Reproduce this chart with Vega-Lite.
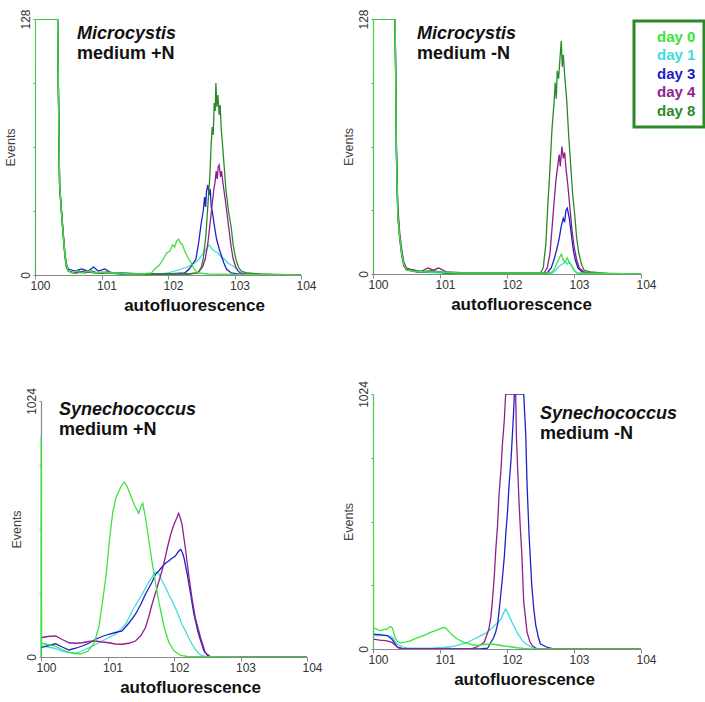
{
  "$schema": "https://vega.github.io/schema/vega-lite/v6.json",
  "background": "white",
  "padding": {"left": 4, "top": 8, "right": 2, "bottom": 5},
  "config": {
    "view": {"stroke": null},
    "font": "Liberation Sans",
    "axis": {"grid": false, "domainColor": "#888888", "domainWidth": 1.2, "tickColor": "#888888", "labelFont": "Liberation Sans", "titleFont": "Liberation Sans"},
    "axisX": {"labelFlush": false, "labelOffset": 5, "labelFontSize": 12, "labelColor": "#333333", "labelPadding": 1, "tickSize": 4, "titleFontSize": 17, "titleFontWeight": "bold", "titleColor": "#111111", "titleY": 22, "titleBaseline": "top"},
    "axisY": {"labelAngle": -90, "labelFontSize": 12, "labelColor": "#333333", "labelPadding": 1, "tickSize": 2, "labelFlush": false, "titleFontSize": 12.5, "titleFontWeight": "normal", "titleColor": "#444444", "titlePadding": 2},
    "title": {"font": "Liberation Sans", "fontSize": 18, "fontWeight": "bold", "fontStyle": "italic", "color": "#111111", "subtitleFont": "Liberation Sans", "subtitleFontSize": 18, "subtitleFontWeight": "bold", "subtitleFontStyle": "normal", "subtitleColor": "#111111", "subtitlePadding": 2, "anchor": "start", "frame": "group", "orient": "top"}
  },
  "datasets": {
    "h": [
{"panel":"A","day":"day 1","logfl":0,"events":0},{"panel":"A","day":"day 1","logfl":0.005,"events":128},{"panel":"A","day":"day 1","logfl":0.34,"events":128},{"panel":"A","day":"day 1","logfl":0.36,"events":70},{"panel":"A","day":"day 1","logfl":0.37,"events":45},{"panel":"A","day":"day 1","logfl":0.39,"events":35},{"panel":"A","day":"day 1","logfl":0.41,"events":26},{"panel":"A","day":"day 1","logfl":0.43,"events":18},{"panel":"A","day":"day 1","logfl":0.45,"events":10},{"panel":"A","day":"day 1","logfl":0.47,"events":5},{"panel":"A","day":"day 1","logfl":0.5,"events":2},{"panel":"A","day":"day 1","logfl":0.6,"events":1},{"panel":"A","day":"day 1","logfl":0.8,"events":1.5},{"panel":"A","day":"day 1","logfl":1.0,"events":1},{"panel":"A","day":"day 1","logfl":1.3,"events":0.5},{"panel":"A","day":"day 1","logfl":1.6,"events":0.5},{"panel":"A","day":"day 1","logfl":1.9,"events":0.5},{"panel":"A","day":"day 1","logfl":2.0,"events":1},{"panel":"A","day":"day 1","logfl":2.1,"events":2},{"panel":"A","day":"day 1","logfl":2.2,"events":3},{"panel":"A","day":"day 1","logfl":2.3,"events":4},{"panel":"A","day":"day 1","logfl":2.4,"events":6},{"panel":"A","day":"day 1","logfl":2.47,"events":8},{"panel":"A","day":"day 1","logfl":2.53,"events":11},{"panel":"A","day":"day 1","logfl":2.58,"events":13},{"panel":"A","day":"day 1","logfl":2.62,"events":15},{"panel":"A","day":"day 1","logfl":2.66,"events":13},{"panel":"A","day":"day 1","logfl":2.7,"events":12},{"panel":"A","day":"day 1","logfl":2.75,"events":11},{"panel":"A","day":"day 1","logfl":2.8,"events":9},{"panel":"A","day":"day 1","logfl":2.85,"events":8},{"panel":"A","day":"day 1","logfl":2.9,"events":6},{"panel":"A","day":"day 1","logfl":2.95,"events":5},{"panel":"A","day":"day 1","logfl":3.0,"events":4},{"panel":"A","day":"day 1","logfl":3.05,"events":2},{"panel":"A","day":"day 1","logfl":3.12,"events":1},{"panel":"A","day":"day 1","logfl":3.2,"events":0.3},{"panel":"A","day":"day 1","logfl":4,"events":0},
{"panel":"A","day":"day 3","logfl":0,"events":0},{"panel":"A","day":"day 3","logfl":0.005,"events":128},{"panel":"A","day":"day 3","logfl":0.34,"events":128},{"panel":"A","day":"day 3","logfl":0.36,"events":72},{"panel":"A","day":"day 3","logfl":0.37,"events":46},{"panel":"A","day":"day 3","logfl":0.39,"events":36},{"panel":"A","day":"day 3","logfl":0.41,"events":27},{"panel":"A","day":"day 3","logfl":0.43,"events":18},{"panel":"A","day":"day 3","logfl":0.45,"events":10},{"panel":"A","day":"day 3","logfl":0.47,"events":5},{"panel":"A","day":"day 3","logfl":0.5,"events":3},{"panel":"A","day":"day 3","logfl":0.6,"events":2},{"panel":"A","day":"day 3","logfl":0.7,"events":3},{"panel":"A","day":"day 3","logfl":0.8,"events":2},{"panel":"A","day":"day 3","logfl":0.88,"events":4},{"panel":"A","day":"day 3","logfl":0.95,"events":2},{"panel":"A","day":"day 3","logfl":1.05,"events":3},{"panel":"A","day":"day 3","logfl":1.15,"events":1},{"panel":"A","day":"day 3","logfl":1.3,"events":1},{"panel":"A","day":"day 3","logfl":1.6,"events":0.5},{"panel":"A","day":"day 3","logfl":2.0,"events":0.5},{"panel":"A","day":"day 3","logfl":2.25,"events":1},{"panel":"A","day":"day 3","logfl":2.32,"events":3},{"panel":"A","day":"day 3","logfl":2.38,"events":6},{"panel":"A","day":"day 3","logfl":2.42,"events":8},{"panel":"A","day":"day 3","logfl":2.46,"events":16},{"panel":"A","day":"day 3","logfl":2.5,"events":26},{"panel":"A","day":"day 3","logfl":2.53,"events":32},{"panel":"A","day":"day 3","logfl":2.55,"events":39},{"panel":"A","day":"day 3","logfl":2.565,"events":34},{"panel":"A","day":"day 3","logfl":2.58,"events":42},{"panel":"A","day":"day 3","logfl":2.6,"events":45},{"panel":"A","day":"day 3","logfl":2.62,"events":40},{"panel":"A","day":"day 3","logfl":2.635,"events":43},{"panel":"A","day":"day 3","logfl":2.65,"events":34},{"panel":"A","day":"day 3","logfl":2.67,"events":31},{"panel":"A","day":"day 3","logfl":2.7,"events":24},{"panel":"A","day":"day 3","logfl":2.73,"events":18},{"panel":"A","day":"day 3","logfl":2.77,"events":13},{"panel":"A","day":"day 3","logfl":2.8,"events":10},{"panel":"A","day":"day 3","logfl":2.84,"events":6},{"panel":"A","day":"day 3","logfl":2.88,"events":3},{"panel":"A","day":"day 3","logfl":2.95,"events":1},{"panel":"A","day":"day 3","logfl":3.1,"events":0.3},{"panel":"A","day":"day 3","logfl":4,"events":0},
{"panel":"A","day":"day 4","logfl":0,"events":0},{"panel":"A","day":"day 4","logfl":0.005,"events":128},{"panel":"A","day":"day 4","logfl":0.34,"events":128},{"panel":"A","day":"day 4","logfl":0.36,"events":70},{"panel":"A","day":"day 4","logfl":0.37,"events":45},{"panel":"A","day":"day 4","logfl":0.39,"events":36},{"panel":"A","day":"day 4","logfl":0.41,"events":27},{"panel":"A","day":"day 4","logfl":0.43,"events":19},{"panel":"A","day":"day 4","logfl":0.45,"events":11},{"panel":"A","day":"day 4","logfl":0.47,"events":6},{"panel":"A","day":"day 4","logfl":0.5,"events":2},{"panel":"A","day":"day 4","logfl":0.6,"events":1},{"panel":"A","day":"day 4","logfl":0.75,"events":2},{"panel":"A","day":"day 4","logfl":0.9,"events":1},{"panel":"A","day":"day 4","logfl":1.1,"events":1},{"panel":"A","day":"day 4","logfl":1.4,"events":0.5},{"panel":"A","day":"day 4","logfl":2.3,"events":0.5},{"panel":"A","day":"day 4","logfl":2.45,"events":1},{"panel":"A","day":"day 4","logfl":2.52,"events":4},{"panel":"A","day":"day 4","logfl":2.56,"events":8},{"panel":"A","day":"day 4","logfl":2.6,"events":16},{"panel":"A","day":"day 4","logfl":2.63,"events":25},{"panel":"A","day":"day 4","logfl":2.66,"events":34},{"panel":"A","day":"day 4","logfl":2.69,"events":43},{"panel":"A","day":"day 4","logfl":2.71,"events":47},{"panel":"A","day":"day 4","logfl":2.725,"events":52},{"panel":"A","day":"day 4","logfl":2.74,"events":48},{"panel":"A","day":"day 4","logfl":2.755,"events":54},{"panel":"A","day":"day 4","logfl":2.77,"events":55},{"panel":"A","day":"day 4","logfl":2.79,"events":49},{"panel":"A","day":"day 4","logfl":2.805,"events":52},{"panel":"A","day":"day 4","logfl":2.83,"events":45},{"panel":"A","day":"day 4","logfl":2.86,"events":38},{"panel":"A","day":"day 4","logfl":2.89,"events":30},{"panel":"A","day":"day 4","logfl":2.92,"events":22},{"panel":"A","day":"day 4","logfl":2.95,"events":14},{"panel":"A","day":"day 4","logfl":2.98,"events":8},{"panel":"A","day":"day 4","logfl":3.02,"events":4},{"panel":"A","day":"day 4","logfl":3.08,"events":1},{"panel":"A","day":"day 4","logfl":3.2,"events":0.3},{"panel":"A","day":"day 4","logfl":4,"events":0},
{"panel":"A","day":"day 8","logfl":0,"events":0},{"panel":"A","day":"day 8","logfl":0.005,"events":128},{"panel":"A","day":"day 8","logfl":0.34,"events":128},{"panel":"A","day":"day 8","logfl":0.36,"events":68},{"panel":"A","day":"day 8","logfl":0.37,"events":44},{"panel":"A","day":"day 8","logfl":0.39,"events":34},{"panel":"A","day":"day 8","logfl":0.41,"events":25},{"panel":"A","day":"day 8","logfl":0.43,"events":17},{"panel":"A","day":"day 8","logfl":0.45,"events":9},{"panel":"A","day":"day 8","logfl":0.47,"events":4},{"panel":"A","day":"day 8","logfl":0.5,"events":2},{"panel":"A","day":"day 8","logfl":0.58,"events":1},{"panel":"A","day":"day 8","logfl":0.66,"events":2},{"panel":"A","day":"day 8","logfl":0.75,"events":1},{"panel":"A","day":"day 8","logfl":0.85,"events":2},{"panel":"A","day":"day 8","logfl":0.95,"events":1},{"panel":"A","day":"day 8","logfl":1.1,"events":1.5},{"panel":"A","day":"day 8","logfl":1.3,"events":0.5},{"panel":"A","day":"day 8","logfl":1.6,"events":0.5},{"panel":"A","day":"day 8","logfl":2.3,"events":0.5},{"panel":"A","day":"day 8","logfl":2.45,"events":1},{"panel":"A","day":"day 8","logfl":2.5,"events":4},{"panel":"A","day":"day 8","logfl":2.53,"events":8},{"panel":"A","day":"day 8","logfl":2.57,"events":20},{"panel":"A","day":"day 8","logfl":2.6,"events":35},{"panel":"A","day":"day 8","logfl":2.63,"events":50},{"panel":"A","day":"day 8","logfl":2.65,"events":66},{"panel":"A","day":"day 8","logfl":2.665,"events":74},{"panel":"A","day":"day 8","logfl":2.68,"events":70},{"panel":"A","day":"day 8","logfl":2.695,"events":86},{"panel":"A","day":"day 8","logfl":2.71,"events":82},{"panel":"A","day":"day 8","logfl":2.72,"events":96},{"panel":"A","day":"day 8","logfl":2.735,"events":84},{"panel":"A","day":"day 8","logfl":2.75,"events":90},{"panel":"A","day":"day 8","logfl":2.77,"events":80},{"panel":"A","day":"day 8","logfl":2.785,"events":85},{"panel":"A","day":"day 8","logfl":2.8,"events":73},{"panel":"A","day":"day 8","logfl":2.82,"events":65},{"panel":"A","day":"day 8","logfl":2.85,"events":52},{"panel":"A","day":"day 8","logfl":2.87,"events":43},{"panel":"A","day":"day 8","logfl":2.91,"events":32},{"panel":"A","day":"day 8","logfl":2.95,"events":24},{"panel":"A","day":"day 8","logfl":2.98,"events":15},{"panel":"A","day":"day 8","logfl":3.02,"events":8},{"panel":"A","day":"day 8","logfl":3.06,"events":4},{"panel":"A","day":"day 8","logfl":3.1,"events":2},{"panel":"A","day":"day 8","logfl":3.2,"events":1},{"panel":"A","day":"day 8","logfl":3.4,"events":0.5},{"panel":"A","day":"day 8","logfl":3.6,"events":0.3},{"panel":"A","day":"day 8","logfl":4,"events":0},
{"panel":"A","day":"day 0","logfl":0,"events":0},{"panel":"A","day":"day 0","logfl":0.005,"events":128},{"panel":"A","day":"day 0","logfl":0.34,"events":128},{"panel":"A","day":"day 0","logfl":0.36,"events":70},{"panel":"A","day":"day 0","logfl":0.37,"events":45},{"panel":"A","day":"day 0","logfl":0.39,"events":35},{"panel":"A","day":"day 0","logfl":0.41,"events":26},{"panel":"A","day":"day 0","logfl":0.43,"events":18},{"panel":"A","day":"day 0","logfl":0.45,"events":10},{"panel":"A","day":"day 0","logfl":0.47,"events":5},{"panel":"A","day":"day 0","logfl":0.5,"events":2},{"panel":"A","day":"day 0","logfl":0.55,"events":1},{"panel":"A","day":"day 0","logfl":0.62,"events":2},{"panel":"A","day":"day 0","logfl":0.7,"events":1},{"panel":"A","day":"day 0","logfl":0.8,"events":2},{"panel":"A","day":"day 0","logfl":0.9,"events":1},{"panel":"A","day":"day 0","logfl":1.0,"events":1.5},{"panel":"A","day":"day 0","logfl":1.1,"events":1},{"panel":"A","day":"day 0","logfl":1.25,"events":1},{"panel":"A","day":"day 0","logfl":1.4,"events":0.5},{"panel":"A","day":"day 0","logfl":1.6,"events":0.5},{"panel":"A","day":"day 0","logfl":1.75,"events":1},{"panel":"A","day":"day 0","logfl":1.8,"events":3},{"panel":"A","day":"day 0","logfl":1.87,"events":5},{"panel":"A","day":"day 0","logfl":1.93,"events":8},{"panel":"A","day":"day 0","logfl":1.98,"events":11},{"panel":"A","day":"day 0","logfl":2.03,"events":12},{"panel":"A","day":"day 0","logfl":2.07,"events":15},{"panel":"A","day":"day 0","logfl":2.1,"events":14},{"panel":"A","day":"day 0","logfl":2.13,"events":17},{"panel":"A","day":"day 0","logfl":2.16,"events":18},{"panel":"A","day":"day 0","logfl":2.19,"events":16},{"panel":"A","day":"day 0","logfl":2.22,"events":15},{"panel":"A","day":"day 0","logfl":2.25,"events":12},{"panel":"A","day":"day 0","logfl":2.28,"events":10},{"panel":"A","day":"day 0","logfl":2.31,"events":8},{"panel":"A","day":"day 0","logfl":2.35,"events":6},{"panel":"A","day":"day 0","logfl":2.39,"events":3},{"panel":"A","day":"day 0","logfl":2.45,"events":1},{"panel":"A","day":"day 0","logfl":2.6,"events":0.5},{"panel":"A","day":"day 0","logfl":3.0,"events":0.3},{"panel":"A","day":"day 0","logfl":4,"events":0},

{"panel":"B","day":"day 1","logfl":0,"events":0},{"panel":"B","day":"day 1","logfl":0.005,"events":128},{"panel":"B","day":"day 1","logfl":0.33,"events":128},{"panel":"B","day":"day 1","logfl":0.35,"events":60},{"panel":"B","day":"day 1","logfl":0.37,"events":30},{"panel":"B","day":"day 1","logfl":0.4,"events":18},{"panel":"B","day":"day 1","logfl":0.43,"events":10},{"panel":"B","day":"day 1","logfl":0.46,"events":5},{"panel":"B","day":"day 1","logfl":0.5,"events":2},{"panel":"B","day":"day 1","logfl":0.7,"events":1},{"panel":"B","day":"day 1","logfl":1.0,"events":0.5},{"panel":"B","day":"day 1","logfl":2.68,"events":0.5},{"panel":"B","day":"day 1","logfl":2.73,"events":2},{"panel":"B","day":"day 1","logfl":2.78,"events":4},{"panel":"B","day":"day 1","logfl":2.83,"events":5},{"panel":"B","day":"day 1","logfl":2.87,"events":6},{"panel":"B","day":"day 1","logfl":2.9,"events":5},{"panel":"B","day":"day 1","logfl":2.93,"events":6},{"panel":"B","day":"day 1","logfl":2.96,"events":4},{"panel":"B","day":"day 1","logfl":3.0,"events":2},{"panel":"B","day":"day 1","logfl":3.04,"events":0.5},{"panel":"B","day":"day 1","logfl":4,"events":0},
{"panel":"B","day":"day 3","logfl":0,"events":0},{"panel":"B","day":"day 3","logfl":0.005,"events":128},{"panel":"B","day":"day 3","logfl":0.33,"events":128},{"panel":"B","day":"day 3","logfl":0.35,"events":62},{"panel":"B","day":"day 3","logfl":0.37,"events":31},{"panel":"B","day":"day 3","logfl":0.4,"events":18},{"panel":"B","day":"day 3","logfl":0.43,"events":10},{"panel":"B","day":"day 3","logfl":0.46,"events":5},{"panel":"B","day":"day 3","logfl":0.5,"events":2},{"panel":"B","day":"day 3","logfl":0.6,"events":2},{"panel":"B","day":"day 3","logfl":0.75,"events":1},{"panel":"B","day":"day 3","logfl":0.9,"events":1.5},{"panel":"B","day":"day 3","logfl":1.1,"events":0.5},{"panel":"B","day":"day 3","logfl":2.6,"events":0.5},{"panel":"B","day":"day 3","logfl":2.66,"events":3},{"panel":"B","day":"day 3","logfl":2.7,"events":7},{"panel":"B","day":"day 3","logfl":2.74,"events":12},{"panel":"B","day":"day 3","logfl":2.78,"events":18},{"panel":"B","day":"day 3","logfl":2.81,"events":24},{"panel":"B","day":"day 3","logfl":2.84,"events":28},{"panel":"B","day":"day 3","logfl":2.86,"events":26},{"panel":"B","day":"day 3","logfl":2.88,"events":32},{"panel":"B","day":"day 3","logfl":2.9,"events":33},{"panel":"B","day":"day 3","logfl":2.93,"events":28},{"panel":"B","day":"day 3","logfl":2.96,"events":20},{"panel":"B","day":"day 3","logfl":2.99,"events":12},{"panel":"B","day":"day 3","logfl":3.02,"events":7},{"panel":"B","day":"day 3","logfl":3.06,"events":3},{"panel":"B","day":"day 3","logfl":3.12,"events":1},{"panel":"B","day":"day 3","logfl":3.25,"events":0.3},{"panel":"B","day":"day 3","logfl":4,"events":0},
{"panel":"B","day":"day 4","logfl":0,"events":0},{"panel":"B","day":"day 4","logfl":0.005,"events":128},{"panel":"B","day":"day 4","logfl":0.33,"events":128},{"panel":"B","day":"day 4","logfl":0.35,"events":64},{"panel":"B","day":"day 4","logfl":0.37,"events":34},{"panel":"B","day":"day 4","logfl":0.4,"events":20},{"panel":"B","day":"day 4","logfl":0.43,"events":12},{"panel":"B","day":"day 4","logfl":0.46,"events":6},{"panel":"B","day":"day 4","logfl":0.5,"events":3},{"panel":"B","day":"day 4","logfl":0.6,"events":2},{"panel":"B","day":"day 4","logfl":0.7,"events":1},{"panel":"B","day":"day 4","logfl":0.82,"events":3},{"panel":"B","day":"day 4","logfl":0.9,"events":2},{"panel":"B","day":"day 4","logfl":0.98,"events":3},{"panel":"B","day":"day 4","logfl":1.1,"events":1},{"panel":"B","day":"day 4","logfl":1.4,"events":0.5},{"panel":"B","day":"day 4","logfl":2.55,"events":0.5},{"panel":"B","day":"day 4","logfl":2.6,"events":3},{"panel":"B","day":"day 4","logfl":2.64,"events":10},{"panel":"B","day":"day 4","logfl":2.67,"events":22},{"panel":"B","day":"day 4","logfl":2.7,"events":35},{"panel":"B","day":"day 4","logfl":2.73,"events":47},{"panel":"B","day":"day 4","logfl":2.76,"events":55},{"panel":"B","day":"day 4","logfl":2.78,"events":60},{"panel":"B","day":"day 4","logfl":2.795,"events":54},{"panel":"B","day":"day 4","logfl":2.82,"events":64},{"panel":"B","day":"day 4","logfl":2.84,"events":58},{"panel":"B","day":"day 4","logfl":2.86,"events":61},{"panel":"B","day":"day 4","logfl":2.88,"events":53},{"panel":"B","day":"day 4","logfl":2.91,"events":44},{"panel":"B","day":"day 4","logfl":2.94,"events":33},{"panel":"B","day":"day 4","logfl":2.97,"events":22},{"panel":"B","day":"day 4","logfl":3.0,"events":14},{"panel":"B","day":"day 4","logfl":3.04,"events":7},{"panel":"B","day":"day 4","logfl":3.08,"events":3},{"panel":"B","day":"day 4","logfl":3.15,"events":1},{"panel":"B","day":"day 4","logfl":3.3,"events":0.3},{"panel":"B","day":"day 4","logfl":4,"events":0},
{"panel":"B","day":"day 8","logfl":0,"events":0},{"panel":"B","day":"day 8","logfl":0.005,"events":128},{"panel":"B","day":"day 8","logfl":0.33,"events":128},{"panel":"B","day":"day 8","logfl":0.35,"events":58},{"panel":"B","day":"day 8","logfl":0.37,"events":29},{"panel":"B","day":"day 8","logfl":0.4,"events":17},{"panel":"B","day":"day 8","logfl":0.43,"events":9},{"panel":"B","day":"day 8","logfl":0.46,"events":4},{"panel":"B","day":"day 8","logfl":0.5,"events":2},{"panel":"B","day":"day 8","logfl":0.65,"events":1},{"panel":"B","day":"day 8","logfl":0.85,"events":1.5},{"panel":"B","day":"day 8","logfl":1.1,"events":0.5},{"panel":"B","day":"day 8","logfl":2.5,"events":0.5},{"panel":"B","day":"day 8","logfl":2.54,"events":3},{"panel":"B","day":"day 8","logfl":2.58,"events":15},{"panel":"B","day":"day 8","logfl":2.61,"events":35},{"panel":"B","day":"day 8","logfl":2.64,"events":52},{"panel":"B","day":"day 8","logfl":2.67,"events":72},{"panel":"B","day":"day 8","logfl":2.7,"events":85},{"panel":"B","day":"day 8","logfl":2.72,"events":96},{"panel":"B","day":"day 8","logfl":2.735,"events":88},{"panel":"B","day":"day 8","logfl":2.75,"events":102},{"panel":"B","day":"day 8","logfl":2.77,"events":98},{"panel":"B","day":"day 8","logfl":2.79,"events":108},{"panel":"B","day":"day 8","logfl":2.81,"events":117},{"panel":"B","day":"day 8","logfl":2.825,"events":104},{"panel":"B","day":"day 8","logfl":2.84,"events":110},{"panel":"B","day":"day 8","logfl":2.86,"events":100},{"panel":"B","day":"day 8","logfl":2.89,"events":88},{"panel":"B","day":"day 8","logfl":2.92,"events":70},{"panel":"B","day":"day 8","logfl":2.95,"events":55},{"panel":"B","day":"day 8","logfl":2.98,"events":40},{"panel":"B","day":"day 8","logfl":3.01,"events":30},{"panel":"B","day":"day 8","logfl":3.04,"events":18},{"panel":"B","day":"day 8","logfl":3.07,"events":11},{"panel":"B","day":"day 8","logfl":3.11,"events":5},{"panel":"B","day":"day 8","logfl":3.15,"events":2},{"panel":"B","day":"day 8","logfl":3.25,"events":1},{"panel":"B","day":"day 8","logfl":3.5,"events":0.3},{"panel":"B","day":"day 8","logfl":4,"events":0},
{"panel":"B","day":"day 0","logfl":0,"events":0},{"panel":"B","day":"day 0","logfl":0.005,"events":128},{"panel":"B","day":"day 0","logfl":0.33,"events":128},{"panel":"B","day":"day 0","logfl":0.35,"events":60},{"panel":"B","day":"day 0","logfl":0.37,"events":30},{"panel":"B","day":"day 0","logfl":0.4,"events":18},{"panel":"B","day":"day 0","logfl":0.43,"events":10},{"panel":"B","day":"day 0","logfl":0.46,"events":5},{"panel":"B","day":"day 0","logfl":0.5,"events":2},{"panel":"B","day":"day 0","logfl":0.6,"events":1.5},{"panel":"B","day":"day 0","logfl":0.8,"events":1},{"panel":"B","day":"day 0","logfl":1.0,"events":1},{"panel":"B","day":"day 0","logfl":1.3,"events":0.5},{"panel":"B","day":"day 0","logfl":2.65,"events":0.5},{"panel":"B","day":"day 0","logfl":2.7,"events":2},{"panel":"B","day":"day 0","logfl":2.74,"events":5},{"panel":"B","day":"day 0","logfl":2.78,"events":8},{"panel":"B","day":"day 0","logfl":2.81,"events":10},{"panel":"B","day":"day 0","logfl":2.84,"events":7},{"panel":"B","day":"day 0","logfl":2.87,"events":6},{"panel":"B","day":"day 0","logfl":2.9,"events":8},{"panel":"B","day":"day 0","logfl":2.93,"events":6},{"panel":"B","day":"day 0","logfl":2.97,"events":4},{"panel":"B","day":"day 0","logfl":3.0,"events":2},{"panel":"B","day":"day 0","logfl":3.05,"events":0.5},{"panel":"B","day":"day 0","logfl":4,"events":0},

{"panel":"C","day":"day 1","logfl":0,"events":45},{"panel":"C","day":"day 1","logfl":0.1,"events":40},{"panel":"C","day":"day 1","logfl":0.2,"events":35},{"panel":"C","day":"day 1","logfl":0.32,"events":24},{"panel":"C","day":"day 1","logfl":0.42,"events":18},{"panel":"C","day":"day 1","logfl":0.52,"events":16},{"panel":"C","day":"day 1","logfl":0.62,"events":25},{"panel":"C","day":"day 1","logfl":0.72,"events":37},{"panel":"C","day":"day 1","logfl":0.82,"events":50},{"panel":"C","day":"day 1","logfl":0.92,"events":64},{"panel":"C","day":"day 1","logfl":1.02,"events":78},{"panel":"C","day":"day 1","logfl":1.12,"events":91},{"panel":"C","day":"day 1","logfl":1.2,"events":110},{"panel":"C","day":"day 1","logfl":1.27,"events":131},{"panel":"C","day":"day 1","logfl":1.32,"events":155},{"panel":"C","day":"day 1","logfl":1.37,"events":184},{"panel":"C","day":"day 1","logfl":1.45,"events":220},{"panel":"C","day":"day 1","logfl":1.52,"events":251},{"panel":"C","day":"day 1","logfl":1.6,"events":290},{"panel":"C","day":"day 1","logfl":1.67,"events":320},{"panel":"C","day":"day 1","logfl":1.72,"events":340},{"panel":"C","day":"day 1","logfl":1.77,"events":335},{"panel":"C","day":"day 1","logfl":1.82,"events":305},{"panel":"C","day":"day 1","logfl":1.87,"events":280},{"panel":"C","day":"day 1","logfl":1.92,"events":251},{"panel":"C","day":"day 1","logfl":1.97,"events":225},{"panel":"C","day":"day 1","logfl":2.02,"events":197},{"panel":"C","day":"day 1","logfl":2.07,"events":165},{"panel":"C","day":"day 1","logfl":2.12,"events":131},{"panel":"C","day":"day 1","logfl":2.17,"events":105},{"panel":"C","day":"day 1","logfl":2.22,"events":77},{"panel":"C","day":"day 1","logfl":2.27,"events":52},{"panel":"C","day":"day 1","logfl":2.32,"events":31},{"panel":"C","day":"day 1","logfl":2.37,"events":15},{"panel":"C","day":"day 1","logfl":2.42,"events":5},{"panel":"C","day":"day 1","logfl":2.5,"events":1},{"panel":"C","day":"day 1","logfl":2.6,"events":0},{"panel":"C","day":"day 1","logfl":4,"events":0},
{"panel":"C","day":"day 3","logfl":0,"events":37},{"panel":"C","day":"day 3","logfl":0.1,"events":45},{"panel":"C","day":"day 3","logfl":0.22,"events":53},{"panel":"C","day":"day 3","logfl":0.32,"events":40},{"panel":"C","day":"day 3","logfl":0.42,"events":28},{"panel":"C","day":"day 3","logfl":0.52,"events":35},{"panel":"C","day":"day 3","logfl":0.62,"events":44},{"panel":"C","day":"day 3","logfl":0.72,"events":55},{"panel":"C","day":"day 3","logfl":0.82,"events":71},{"panel":"C","day":"day 3","logfl":0.92,"events":82},{"panel":"C","day":"day 3","logfl":1.02,"events":91},{"panel":"C","day":"day 3","logfl":1.12,"events":98},{"panel":"C","day":"day 3","logfl":1.22,"events":104},{"panel":"C","day":"day 3","logfl":1.32,"events":135},{"panel":"C","day":"day 3","logfl":1.42,"events":171},{"panel":"C","day":"day 3","logfl":1.5,"events":210},{"panel":"C","day":"day 3","logfl":1.57,"events":251},{"panel":"C","day":"day 3","logfl":1.62,"events":275},{"panel":"C","day":"day 3","logfl":1.67,"events":300},{"panel":"C","day":"day 3","logfl":1.72,"events":330},{"panel":"C","day":"day 3","logfl":1.77,"events":344},{"panel":"C","day":"day 3","logfl":1.82,"events":360},{"panel":"C","day":"day 3","logfl":1.87,"events":375},{"panel":"C","day":"day 3","logfl":1.92,"events":384},{"panel":"C","day":"day 3","logfl":1.97,"events":395},{"panel":"C","day":"day 3","logfl":2.02,"events":404},{"panel":"C","day":"day 3","logfl":2.06,"events":420},{"panel":"C","day":"day 3","logfl":2.1,"events":431},{"panel":"C","day":"day 3","logfl":2.13,"events":415},{"panel":"C","day":"day 3","logfl":2.15,"events":397},{"panel":"C","day":"day 3","logfl":2.2,"events":331},{"panel":"C","day":"day 3","logfl":2.25,"events":251},{"panel":"C","day":"day 3","logfl":2.3,"events":171},{"panel":"C","day":"day 3","logfl":2.37,"events":91},{"panel":"C","day":"day 3","logfl":2.45,"events":24},{"panel":"C","day":"day 3","logfl":2.52,"events":2},{"panel":"C","day":"day 3","logfl":2.6,"events":0},{"panel":"C","day":"day 3","logfl":4,"events":0},
{"panel":"C","day":"day 4","logfl":0,"events":77},{"panel":"C","day":"day 4","logfl":0.1,"events":82},{"panel":"C","day":"day 4","logfl":0.22,"events":84},{"panel":"C","day":"day 4","logfl":0.32,"events":70},{"panel":"C","day":"day 4","logfl":0.42,"events":57},{"panel":"C","day":"day 4","logfl":0.52,"events":55},{"panel":"C","day":"day 4","logfl":0.62,"events":57},{"panel":"C","day":"day 4","logfl":0.72,"events":62},{"panel":"C","day":"day 4","logfl":0.82,"events":64},{"panel":"C","day":"day 4","logfl":0.92,"events":60},{"panel":"C","day":"day 4","logfl":1.02,"events":57},{"panel":"C","day":"day 4","logfl":1.12,"events":52},{"panel":"C","day":"day 4","logfl":1.22,"events":51},{"panel":"C","day":"day 4","logfl":1.32,"events":55},{"panel":"C","day":"day 4","logfl":1.42,"events":64},{"panel":"C","day":"day 4","logfl":1.5,"events":85},{"panel":"C","day":"day 4","logfl":1.57,"events":117},{"panel":"C","day":"day 4","logfl":1.62,"events":160},{"panel":"C","day":"day 4","logfl":1.67,"events":211},{"panel":"C","day":"day 4","logfl":1.72,"events":255},{"panel":"C","day":"day 4","logfl":1.77,"events":300},{"panel":"C","day":"day 4","logfl":1.82,"events":345},{"panel":"C","day":"day 4","logfl":1.87,"events":400},{"panel":"C","day":"day 4","logfl":1.9,"events":437},{"panel":"C","day":"day 4","logfl":1.95,"events":490},{"panel":"C","day":"day 4","logfl":2.0,"events":531},{"panel":"C","day":"day 4","logfl":2.04,"events":555},{"panel":"C","day":"day 4","logfl":2.07,"events":575},{"panel":"C","day":"day 4","logfl":2.09,"events":560},{"panel":"C","day":"day 4","logfl":2.12,"events":531},{"panel":"C","day":"day 4","logfl":2.17,"events":437},{"panel":"C","day":"day 4","logfl":2.22,"events":331},{"panel":"C","day":"day 4","logfl":2.27,"events":237},{"panel":"C","day":"day 4","logfl":2.32,"events":157},{"panel":"C","day":"day 4","logfl":2.4,"events":77},{"panel":"C","day":"day 4","logfl":2.47,"events":17},{"panel":"C","day":"day 4","logfl":2.55,"events":1},{"panel":"C","day":"day 4","logfl":2.65,"events":0},{"panel":"C","day":"day 4","logfl":4,"events":0},
{"panel":"C","day":"day 0","logfl":0,"events":0},{"panel":"C","day":"day 0","logfl":0.002,"events":884},{"panel":"C","day":"day 0","logfl":0.008,"events":55},{"panel":"C","day":"day 0","logfl":0.1,"events":50},{"panel":"C","day":"day 0","logfl":0.2,"events":45},{"panel":"C","day":"day 0","logfl":0.3,"events":32},{"panel":"C","day":"day 0","logfl":0.4,"events":20},{"panel":"C","day":"day 0","logfl":0.5,"events":14},{"panel":"C","day":"day 0","logfl":0.6,"events":13},{"panel":"C","day":"day 0","logfl":0.7,"events":22},{"panel":"C","day":"day 0","logfl":0.8,"events":55},{"panel":"C","day":"day 0","logfl":0.87,"events":120},{"panel":"C","day":"day 0","logfl":0.93,"events":230},{"panel":"C","day":"day 0","logfl":0.98,"events":330},{"panel":"C","day":"day 0","logfl":1.03,"events":470},{"panel":"C","day":"day 0","logfl":1.08,"events":580},{"panel":"C","day":"day 0","logfl":1.13,"events":640},{"panel":"C","day":"day 0","logfl":1.2,"events":680},{"panel":"C","day":"day 0","logfl":1.25,"events":700},{"panel":"C","day":"day 0","logfl":1.28,"events":690},{"panel":"C","day":"day 0","logfl":1.32,"events":665},{"panel":"C","day":"day 0","logfl":1.37,"events":630},{"panel":"C","day":"day 0","logfl":1.42,"events":600},{"panel":"C","day":"day 0","logfl":1.47,"events":575},{"panel":"C","day":"day 0","logfl":1.5,"events":600},{"panel":"C","day":"day 0","logfl":1.53,"events":615},{"panel":"C","day":"day 0","logfl":1.57,"events":560},{"panel":"C","day":"day 0","logfl":1.62,"events":470},{"panel":"C","day":"day 0","logfl":1.67,"events":380},{"panel":"C","day":"day 0","logfl":1.72,"events":300},{"panel":"C","day":"day 0","logfl":1.78,"events":210},{"panel":"C","day":"day 0","logfl":1.85,"events":120},{"panel":"C","day":"day 0","logfl":1.92,"events":60},{"panel":"C","day":"day 0","logfl":2.0,"events":25},{"panel":"C","day":"day 0","logfl":2.1,"events":6},{"panel":"C","day":"day 0","logfl":2.2,"events":2},{"panel":"C","day":"day 0","logfl":2.4,"events":1},{"panel":"C","day":"day 0","logfl":4,"events":0},

{"panel":"D","day":"day 1","logfl":0,"events":54},{"panel":"D","day":"day 1","logfl":0.1,"events":55},{"panel":"D","day":"day 1","logfl":0.21,"events":54},{"panel":"D","day":"day 1","logfl":0.28,"events":50},{"panel":"D","day":"day 1","logfl":0.36,"events":20},{"panel":"D","day":"day 1","logfl":0.45,"events":8},{"panel":"D","day":"day 1","logfl":0.51,"events":4},{"panel":"D","day":"day 1","logfl":0.7,"events":3},{"panel":"D","day":"day 1","logfl":0.91,"events":4},{"panel":"D","day":"day 1","logfl":1.05,"events":6},{"panel":"D","day":"day 1","logfl":1.16,"events":9},{"panel":"D","day":"day 1","logfl":1.3,"events":18},{"panel":"D","day":"day 1","logfl":1.41,"events":27},{"panel":"D","day":"day 1","logfl":1.51,"events":40},{"panel":"D","day":"day 1","logfl":1.61,"events":54},{"panel":"D","day":"day 1","logfl":1.71,"events":67},{"panel":"D","day":"day 1","logfl":1.76,"events":80},{"panel":"D","day":"day 1","logfl":1.81,"events":94},{"panel":"D","day":"day 1","logfl":1.86,"events":105},{"panel":"D","day":"day 1","logfl":1.91,"events":120},{"panel":"D","day":"day 1","logfl":1.95,"events":145},{"panel":"D","day":"day 1","logfl":1.98,"events":161},{"panel":"D","day":"day 1","logfl":2.01,"events":145},{"panel":"D","day":"day 1","logfl":2.03,"events":134},{"panel":"D","day":"day 1","logfl":2.07,"events":110},{"panel":"D","day":"day 1","logfl":2.1,"events":94},{"panel":"D","day":"day 1","logfl":2.14,"events":72},{"panel":"D","day":"day 1","logfl":2.18,"events":54},{"panel":"D","day":"day 1","logfl":2.22,"events":38},{"panel":"D","day":"day 1","logfl":2.25,"events":27},{"panel":"D","day":"day 1","logfl":2.33,"events":13},{"panel":"D","day":"day 1","logfl":2.4,"events":3},{"panel":"D","day":"day 1","logfl":2.5,"events":0},{"panel":"D","day":"day 1","logfl":4,"events":0},
{"panel":"D","day":"day 3","logfl":0,"events":60},{"panel":"D","day":"day 3","logfl":0.1,"events":58},{"panel":"D","day":"day 3","logfl":0.21,"events":54},{"panel":"D","day":"day 3","logfl":0.28,"events":40},{"panel":"D","day":"day 3","logfl":0.36,"events":9},{"panel":"D","day":"day 3","logfl":0.46,"events":0},{"panel":"D","day":"day 3","logfl":1.6,"events":0},{"panel":"D","day":"day 3","logfl":1.71,"events":3},{"panel":"D","day":"day 3","logfl":1.76,"events":27},{"panel":"D","day":"day 3","logfl":1.8,"events":45},{"panel":"D","day":"day 3","logfl":1.83,"events":67},{"panel":"D","day":"day 3","logfl":1.86,"events":100},{"panel":"D","day":"day 3","logfl":1.88,"events":147},{"panel":"D","day":"day 3","logfl":1.9,"events":200},{"panel":"D","day":"day 3","logfl":1.93,"events":281},{"panel":"D","day":"day 3","logfl":1.96,"events":370},{"panel":"D","day":"day 3","logfl":1.98,"events":455},{"panel":"D","day":"day 3","logfl":2.01,"events":560},{"panel":"D","day":"day 3","logfl":2.03,"events":656},{"panel":"D","day":"day 3","logfl":2.06,"events":760},{"panel":"D","day":"day 3","logfl":2.08,"events":857},{"panel":"D","day":"day 3","logfl":2.1,"events":960},{"panel":"D","day":"day 3","logfl":2.11,"events":1024},{"panel":"D","day":"day 3","logfl":2.25,"events":1024},{"panel":"D","day":"day 3","logfl":2.265,"events":940},{"panel":"D","day":"day 3","logfl":2.28,"events":857},{"panel":"D","day":"day 3","logfl":2.3,"events":656},{"panel":"D","day":"day 3","logfl":2.33,"events":455},{"panel":"D","day":"day 3","logfl":2.37,"events":254},{"panel":"D","day":"day 3","logfl":2.4,"events":160},{"panel":"D","day":"day 3","logfl":2.43,"events":94},{"panel":"D","day":"day 3","logfl":2.47,"events":45},{"panel":"D","day":"day 3","logfl":2.5,"events":20},{"panel":"D","day":"day 3","logfl":2.6,"events":7},{"panel":"D","day":"day 3","logfl":2.7,"events":0},{"panel":"D","day":"day 3","logfl":4,"events":0},
{"panel":"D","day":"day 4","logfl":0,"events":40},{"panel":"D","day":"day 4","logfl":0.1,"events":36},{"panel":"D","day":"day 4","logfl":0.21,"events":33},{"panel":"D","day":"day 4","logfl":0.28,"events":27},{"panel":"D","day":"day 4","logfl":0.38,"events":4},{"panel":"D","day":"day 4","logfl":0.46,"events":0},{"panel":"D","day":"day 4","logfl":1.45,"events":0},{"panel":"D","day":"day 4","logfl":1.56,"events":9},{"panel":"D","day":"day 4","logfl":1.66,"events":27},{"panel":"D","day":"day 4","logfl":1.73,"events":80},{"panel":"D","day":"day 4","logfl":1.76,"events":130},{"panel":"D","day":"day 4","logfl":1.78,"events":187},{"panel":"D","day":"day 4","logfl":1.81,"events":290},{"panel":"D","day":"day 4","logfl":1.83,"events":388},{"panel":"D","day":"day 4","logfl":1.86,"events":500},{"panel":"D","day":"day 4","logfl":1.88,"events":616},{"panel":"D","day":"day 4","logfl":1.91,"events":720},{"panel":"D","day":"day 4","logfl":1.93,"events":817},{"panel":"D","day":"day 4","logfl":1.96,"events":920},{"panel":"D","day":"day 4","logfl":1.98,"events":1024},{"panel":"D","day":"day 4","logfl":2.13,"events":1024},{"panel":"D","day":"day 4","logfl":2.14,"events":857},{"panel":"D","day":"day 4","logfl":2.16,"events":720},{"panel":"D","day":"day 4","logfl":2.18,"events":589},{"panel":"D","day":"day 4","logfl":2.2,"events":480},{"panel":"D","day":"day 4","logfl":2.22,"events":388},{"panel":"D","day":"day 4","logfl":2.25,"events":187},{"panel":"D","day":"day 4","logfl":2.3,"events":67},{"panel":"D","day":"day 4","logfl":2.34,"events":30},{"panel":"D","day":"day 4","logfl":2.38,"events":13},{"panel":"D","day":"day 4","logfl":2.45,"events":0},{"panel":"D","day":"day 4","logfl":4,"events":0},
{"panel":"D","day":"day 0","logfl":0,"events":0},{"panel":"D","day":"day 0","logfl":0.002,"events":1024},{"panel":"D","day":"day 0","logfl":0.008,"events":85},{"panel":"D","day":"day 0","logfl":0.05,"events":80},{"panel":"D","day":"day 0","logfl":0.11,"events":73},{"panel":"D","day":"day 0","logfl":0.16,"events":78},{"panel":"D","day":"day 0","logfl":0.21,"events":80},{"panel":"D","day":"day 0","logfl":0.26,"events":90},{"panel":"D","day":"day 0","logfl":0.29,"events":85},{"panel":"D","day":"day 0","logfl":0.33,"events":45},{"panel":"D","day":"day 0","logfl":0.37,"events":30},{"panel":"D","day":"day 0","logfl":0.41,"events":25},{"panel":"D","day":"day 0","logfl":0.48,"events":28},{"panel":"D","day":"day 0","logfl":0.56,"events":33},{"panel":"D","day":"day 0","logfl":0.63,"events":42},{"panel":"D","day":"day 0","logfl":0.71,"events":50},{"panel":"D","day":"day 0","logfl":0.79,"events":58},{"panel":"D","day":"day 0","logfl":0.86,"events":67},{"panel":"D","day":"day 0","logfl":0.93,"events":74},{"panel":"D","day":"day 0","logfl":1.01,"events":82},{"panel":"D","day":"day 0","logfl":1.06,"events":87},{"panel":"D","day":"day 0","logfl":1.1,"events":80},{"panel":"D","day":"day 0","logfl":1.16,"events":62},{"panel":"D","day":"day 0","logfl":1.21,"events":50},{"panel":"D","day":"day 0","logfl":1.26,"events":40},{"panel":"D","day":"day 0","logfl":1.33,"events":30},{"panel":"D","day":"day 0","logfl":1.41,"events":23},{"panel":"D","day":"day 0","logfl":1.5,"events":16},{"panel":"D","day":"day 0","logfl":1.56,"events":14},{"panel":"D","day":"day 0","logfl":1.65,"events":18},{"panel":"D","day":"day 0","logfl":1.75,"events":20},{"panel":"D","day":"day 0","logfl":1.85,"events":17},{"panel":"D","day":"day 0","logfl":1.95,"events":12},{"panel":"D","day":"day 0","logfl":2.05,"events":9},{"panel":"D","day":"day 0","logfl":2.15,"events":5},{"panel":"D","day":"day 0","logfl":2.25,"events":2},{"panel":"D","day":"day 0","logfl":2.35,"events":0},{"panel":"D","day":"day 0","logfl":4,"events":0}
    ]
  },
  "spacing": 19,
  "hconcat": [
    {
      "vconcat": [
        {
          "width": 266, "height": 256,
          "data": {"name": "h"},
          "transform": [{"filter": "datum.panel == 'A'"}],
          "title": {"text": "Microcystis", "subtitle": "medium +N", "dx": 42, "offset": -54},
          "mark": {"type": "line", "strokeWidth": 1.3, "clip": true},
          "encoding": {
            "x": {"field": "logfl", "type": "quantitative", "scale": {"domain": [0, 4], "nice": false, "zero": false}, "axis": {"title": "autofluorescence", "titleX": 159, "values": [0, 1, 2, 3, 4], "labelExpr": "'10' + datum.value"}},
            "y": {"field": "events", "type": "quantitative", "scale": {"domain": [0, 128], "nice": false}, "axis": {"title": "Events", "values": [0, 32, 64, 96, 128], "labelExpr": "datum.value == 0 || datum.value == 128 ? datum.label : ''"}},
            "color": {"field": "day", "type": "nominal", "scale": {"domain": ["day 0", "day 1", "day 3", "day 4", "day 8"], "range": ["#3de23d", "#40dce0", "#2020c8", "#8e1f8e", "#2a8a2a"]}}
          }
        },
        {
          "width": 272, "height": 256,
          "data": {"name": "h"},
          "transform": [{"filter": "datum.panel == 'C'"}],
          "title": {"text": "Synechococcus", "subtitle": "medium +N", "dx": 24, "offset": -51},
          "mark": {"type": "line", "strokeWidth": 1.3, "clip": true},
          "encoding": {
            "x": {"field": "logfl", "type": "quantitative", "scale": {"domain": [0, 4], "nice": false, "zero": false, "range": [6, 272]}, "axis": {"title": "autofluorescence", "titleX": 155, "values": [0, 1, 2, 3, 4], "labelExpr": "'10' + datum.value"}},
            "y": {"field": "events", "type": "quantitative", "scale": {"domain": [0, 1024], "nice": false}, "axis": {"title": "Events", "offset": -6, "values": [0, 256, 512, 768, 1024], "labelExpr": "datum.value == 0 || datum.value == 1024 ? datum.label : ''", "format": "d"}},
            "color": {"field": "day", "type": "nominal"}
          }
        }
      ],
      "spacing": 126,
      "bounds": "flush"
    },
    {
      "vconcat": [
        {
          "width": 268, "height": 255,
          "data": {"name": "h"},
          "transform": [{"filter": "datum.panel == 'B'"}],
          "title": {"text": "Microcystis", "subtitle": "medium -N", "dx": 44, "offset": -54},
          "mark": {"type": "line", "strokeWidth": 1.3, "clip": true},
          "encoding": {
            "x": {"field": "logfl", "type": "quantitative", "scale": {"domain": [0, 4], "nice": false, "zero": false}, "axis": {"title": "autofluorescence", "titleX": 148, "values": [0, 1, 2, 3, 4], "labelExpr": "'10' + datum.value"}},
            "y": {"field": "events", "type": "quantitative", "scale": {"domain": [0, 128], "nice": false}, "axis": {"title": "Events", "values": [0, 32, 64, 96, 128], "labelExpr": "datum.value == 0 || datum.value == 128 ? datum.label : ''"}},
            "color": {"field": "day", "type": "nominal", "legend": {"orient": "none", "legendX": 599, "legendY": 2, "title": null, "labelFontSize": 15, "labelFontWeight": "bold", "labelFont": "Liberation Sans", "symbolSize": 0, "symbolStrokeWidth": 0, "symbolOpacity": 0, "labelOffset": 0, "padding": 8, "rowPadding": 2.5, "strokeColor": "#2a8a2a", "encode": {"labels": {"update": {"fill": {"scale": "color", "field": "value"}}}, "legend": {"update": {"strokeWidth": {"value": 3}}}}}}
          }
        },
        {
          "width": 268, "height": 255,
          "data": {"name": "h"},
          "transform": [{"filter": "datum.panel == 'D'"}],
          "title": {"text": "Synechococcus", "subtitle": "medium -N", "dx": 167, "offset": -62},
          "mark": {"type": "line", "strokeWidth": 1.3, "clip": true},
          "encoding": {
            "x": {"field": "logfl", "type": "quantitative", "scale": {"domain": [0, 4], "nice": false, "zero": false}, "axis": {"title": "autofluorescence", "titleX": 151, "values": [0, 1, 2, 3, 4], "labelExpr": "'10' + datum.value"}},
            "y": {"field": "events", "type": "quantitative", "scale": {"domain": [0, 1024], "nice": false}, "axis": {"title": "Events", "values": [0, 256, 512, 768, 1024], "labelExpr": "datum.value == 0 || datum.value == 1024 ? datum.label : ''", "format": "d"}},
            "color": {"field": "day", "type": "nominal"}
          }
        }
      ],
      "spacing": 120,
      "bounds": "flush"
    }
  ]
}
